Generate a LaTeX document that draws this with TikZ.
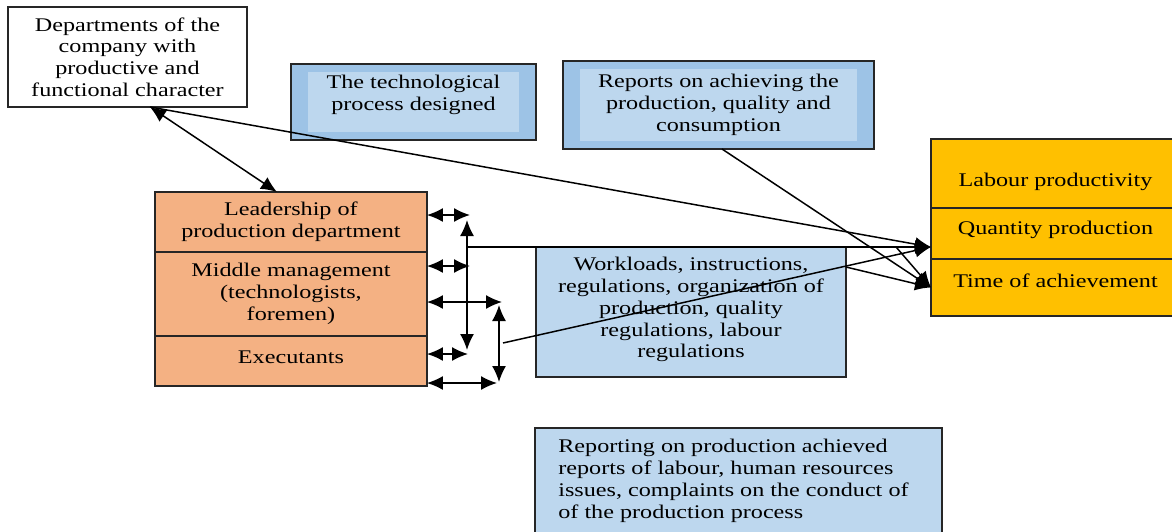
\documentclass[tikz,border=0pt]{standalone}
\usepackage{fontspec}
\setmainfont{Liberation Serif}[FakeStretch=1.25]
\usetikzlibrary{arrows.meta,positioning}

\definecolor{deepblue}{HTML}{9DC3E6}
\definecolor{paleblue}{HTML}{BDD7EE}
\definecolor{peach}{HTML}{F4B183}
\definecolor{amber}{HTML}{FFC000}

\tikzset{
  box/.style={draw=black!85, line width=0.9pt, inner sep=0pt, outer sep=0pt, align=center,
    font=\fontsize{11}{12.4}\selectfont},
  framed/.style={box, fill=deepblue, path picture={
      \fill[paleblue] ([shift={(0.34cm,0.16cm)}]path picture bounding box.south west)
        rectangle ([shift={(-0.34cm,-0.16cm)}]path picture bounding box.north east);}},
  words/.style={inner sep=0pt, font=\fontsize{11}{12.4}\selectfont},
  link/.style={line width=0.85pt},
  tip/.style={link, -{Latex[length=0.32cm,width=0.28cm]}},
  tips/.style={link, {Latex[length=0.32cm,width=0.28cm]}-{Latex[length=0.32cm,width=0.28cm]}},
}

\begin{document}
\begin{tikzpicture}[x=0.02cm, y=-0.02cm]
    \useasboundingbox (0,0) rectangle (1172,531);
    \clip (0,0) rectangle (1172,531);

    % top row
    \node[box, anchor=north west, minimum width=4.78cm, minimum height=2cm] (dept) at (8,7)
        {Departments of the\\company with\\productive and\\functional character};
    \node[framed, anchor=north west, minimum width=4.9cm, minimum height=1.52cm] (tech) at (291,64) {};
    \node[words, align=center, below=0.22cm of tech.north] (techtext) {The technological\\process designed};
    \node[framed, anchor=north west, minimum width=6.22cm, minimum height=1.76cm] (reports) at (563,61)
        {Reports on achieving the\\production, quality and\\consumption};

    % production department
    \node[box, fill=peach, anchor=north west, minimum width=5.44cm, minimum height=1.2cm] (leader) at (155,192)
        {Leadership of\\production department};
    \node[box, fill=peach, minimum width=5.44cm, minimum height=1.68cm, below=0pt of leader] (middle)
        {Middle management\\(technologists,\\foremen)};
    \node[box, fill=peach, minimum width=5.44cm, minimum height=1cm, below=0pt of middle,
        text height=6.8pt, text depth=4pt] (exec) {Executants};

    \node[box, fill=paleblue, anchor=north west, minimum width=6.2cm, minimum height=2.6cm] (work) at (536,247) {};
    \node[words, align=center, below=0.2cm of work.north] (worktext)
        {Workloads, instructions,\\regulations, organization of\\production, quality\\regulations, labour\\regulations};

    % results
    \node[box, fill=amber, anchor=north west, minimum width=4.98cm, minimum height=1.38cm,
        text height=17.7pt, text depth=2.4pt] (labour) at (931,139) {Labour productivity};
    \node[box, fill=amber, minimum width=4.98cm, minimum height=1.02cm, below=0pt of labour,
        text height=7.5pt, text depth=5.8pt] (quantity) {Quantity production};
    \node[box, fill=amber, minimum width=4.98cm, minimum height=1.14cm, below=0pt of quantity,
        text height=7.5pt, text depth=8pt] (timeach) {Time of achievement};

    \node[box, fill=paleblue, anchor=north west, minimum width=8.14cm, minimum height=2.4cm] (reporting) at (535,428) {};
    \node[words, align=left, anchor=north west] (reporttext) at ([shift={(0.46cm,-0.22cm)}]reporting.north west)
        {Reporting on production achieved\\reports of labour, human resources\\issues, complaints on the conduct of\\of the production process};

    % connectors
    \coordinate (qin) at ([yshift=-0.27cm]quantity.west);
    \coordinate (tin) at (timeach.west);
    \coordinate (dtip) at ([xshift=0.45cm]dept.south);
    \draw[tips] (dtip) -- ([xshift=-0.28cm]leader.north);
    \draw[tip] (dtip) -- (qin);

    \foreach \y/\x [count=\i] in {215/470, 266/470, 302/502, 354/468, 383/497} {
        \coordinate (hook\i) at (\x,\y);
        \draw[tips] (exec.east |- hook\i) -- (hook\i);
    }
    \coordinate (bus1top) at (467,220);
    \coordinate (bus1bot) at (467,350);
    \coordinate (bus2top) at (499,305);
    \coordinate (bus2bot) at (499,382);
    \draw[tips] (bus1top) -- (bus1bot);
    \draw[tips] (bus2top) -- (bus2bot);

    \draw[tip] (bus1top |- qin) -- (qin);
    \coordinate (fork) at ([xshift=-0.7cm]qin);
    \draw[tip] (fork) -- (tin);
    \coordinate (bus2out) at (503,343);
    \draw[tip] (bus2out) -- (qin);
    \draw[tip] ([xshift=0.07cm]reports.south) -- (tin);
    \draw[tip] ([yshift=0.9cm]work.east) -- (tin);
\end{tikzpicture}
\end{document}
